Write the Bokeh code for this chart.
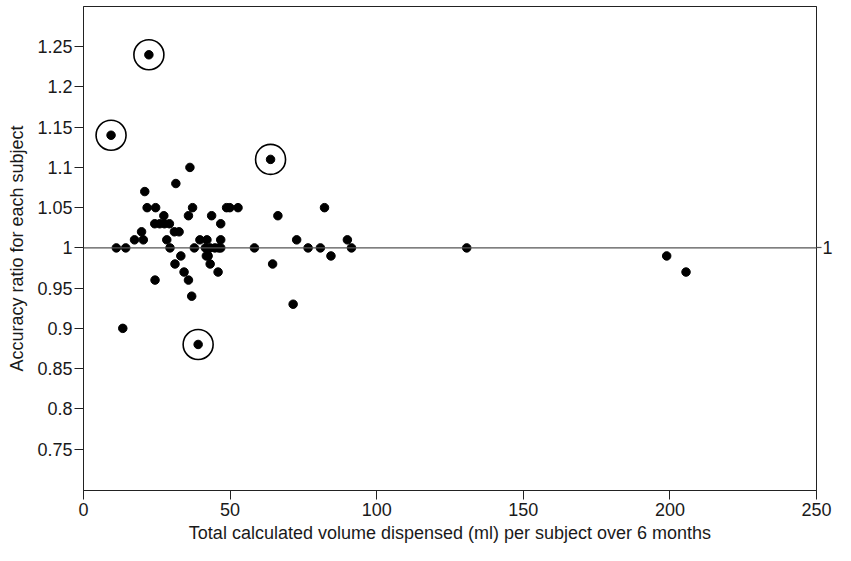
from bokeh.plotting import figure
from bokeh.models import FixedTicker, LinearAxis, Span, Range1d
from bokeh.embed import file_html
from bokeh.resources import INLINE

# Data
volume = [22.3, 9.4, 63.8, 36.3, 31.5, 20.9,
          21.7, 24.6, 37.2, 48.8, 49.9, 52.7, 82.2,
          27.4, 35.8, 43.7, 66.3,
          24.3, 26.0, 27.6, 29.3, 46.8,
          19.8, 31.0, 32.6,
          17.4, 20.4, 28.4, 39.7, 42.1, 46.8, 72.7, 90.0,
          11.2, 14.4, 29.5, 37.8, 41.6, 43.2, 44.8, 46.1, 46.8, 58.3, 76.6, 80.8, 91.4, 130.7,
          33.2, 41.9, 42.5, 84.4, 198.9,
          31.2, 43.2, 64.5,
          34.3, 45.9, 205.5,
          24.4, 35.8,
          36.9, 71.5, 13.4, 39.1]
ratio = [1.24, 1.14, 1.11, 1.10, 1.08, 1.07,
         1.05, 1.05, 1.05, 1.05, 1.05, 1.05, 1.05,
         1.04, 1.04, 1.04, 1.04,
         1.03, 1.03, 1.03, 1.03, 1.03,
         1.02, 1.02, 1.02,
         1.01, 1.01, 1.01, 1.01, 1.01, 1.01, 1.01, 1.01,
         1.00, 1.00, 1.00, 1.00, 1.00, 1.00, 1.00, 1.00, 1.00, 1.00, 1.00, 1.00, 1.00, 1.00,
         0.99, 0.99, 0.99, 0.99, 0.99,
         0.98, 0.98, 0.98,
         0.97, 0.97, 0.97,
         0.96, 0.96,
         0.94, 0.93, 0.90, 0.88]
outlier_volume = [22.3, 9.4, 63.8, 39.1]
outlier_ratio = [1.24, 1.14, 1.11, 0.88]

x_ticks = [0, 50, 100, 150, 200, 250]
y_ticks = [0.75, 0.8, 0.85, 0.9, 0.95, 1.0, 1.05, 1.1, 1.15, 1.2, 1.25]
y_tick_labels = ["0.75", "0.8", "0.85", "0.9", "0.95", "1", "1.05", "1.1", "1.15", "1.2", "1.25"]
reference_value = 1.0
reference_label = "1"

FONT = "Liberation Sans"
TXT = "#1a1a1a"
FS = "18px"

p = figure(width=835, height=545,
           x_range=Range1d(0, 250), y_range=Range1d(0.6985, 1.30),
           output_backend="svg", toolbar_location=None,
           min_border_left=83, min_border_top=6, min_border_right=0,
           min_border_bottom=50)
p.background_fill_color = "white"
p.border_fill_color = "white"
p.outline_line_color = "#222222"
p.outline_line_width = 1
p.xgrid.visible = False
p.ygrid.visible = False

# reference line at 1
p.add_layout(Span(location=reference_value, dimension="width",
                  line_color="#555555", line_width=1.2))

p.scatter(volume, ratio, size=8.5, color="black")
p.scatter(outlier_volume, outlier_ratio, size=30, fill_color=None,
          line_color="black", line_width=1.6)

for ax in (p.xaxis[0], p.yaxis[0]):
    ax.axis_line_color = "#222222"
    ax.major_tick_line_color = "#222222"
    ax.major_tick_out = 9
    ax.major_tick_in = 0
    ax.minor_tick_line_color = None
    ax.major_label_text_font = FONT
    ax.major_label_text_font_size = FS
    ax.major_label_text_color = TXT
    ax.axis_label_text_font = FONT
    ax.axis_label_text_font_size = FS
    ax.axis_label_text_font_style = "normal"
    ax.axis_label_text_color = TXT

p.xaxis.ticker = FixedTicker(ticks=x_ticks)
p.xaxis.axis_label = "Total calculated volume dispensed (ml) per subject over 6 months"
p.xaxis.major_label_standoff = 3
p.xaxis.axis_label_standoff = 4

p.yaxis.ticker = FixedTicker(ticks=y_ticks)
p.yaxis.major_label_overrides = {t: s for t, s in zip(y_ticks, y_tick_labels)}
p.yaxis.axis_label = "Accuracy ratio for each subject"
p.yaxis.major_label_standoff = 2
p.yaxis.axis_label_standoff = 7

# right axis: frame edge, with a tick continuing the reference line and its label
right = LinearAxis(ticker=FixedTicker(ticks=[reference_value]),
                   major_label_overrides={reference_value: reference_label},
                   major_label_text_font=FONT, major_label_text_font_size=FS,
                   major_label_text_color=TXT,
                   major_tick_out=5, major_tick_in=0,
                   major_tick_line_color="#555555", major_tick_line_width=1.2,
                   minor_tick_line_color=None, axis_line_color="#222222",
                   major_label_standoff=1)
p.add_layout(right, "right")

open("out.html", "w").write(file_html(p, INLINE))
